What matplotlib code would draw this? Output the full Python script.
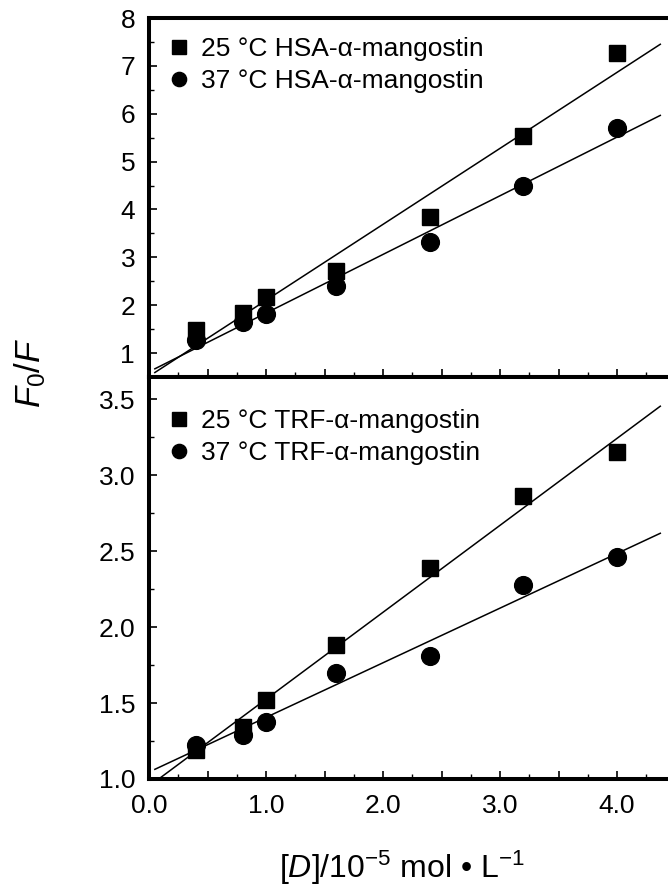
"""
Stern-Volmer plots for HSA / TRF quenching by alpha-mangostin at two temperatures.
"""
import matplotlib.pyplot as plt
import matplotlib.ticker as mticker
import numpy as np

plt.rcParams['font.family'] = ['Liberation Sans', 'DejaVu Sans']
plt.rcParams['mathtext.fontset'] = 'custom'
plt.rcParams['mathtext.rm'] = 'Liberation Sans'
plt.rcParams['mathtext.it'] = 'Liberation Sans:italic'

# [D] / 10^-5 mol L^-1
conc = [0.4, 0.8, 1.0, 1.6, 2.4, 3.2, 4.0]

# F0/F, HSA
hsa_25 = [1.49, 1.83, 2.18, 2.72, 3.85, 5.53, 7.27]
hsa_37 = [1.28, 1.65, 1.81, 2.41, 3.33, 4.50, 5.71]

# F0/F, TRF
trf_25 = [1.19, 1.345, 1.52, 1.88, 2.39, 2.86, 3.15]
trf_37 = [1.224, 1.29, 1.378, 1.70, 1.81, 2.275, 2.46]

fit_range = [0.05, 4.37]

BLACK = 'black'
SPINE_W = 2.9


def style_axis(ax, ylim, major, minor, fmt):
    ax.set_xlim(0, 4.5)
    ax.set_ylim(*ylim)
    ax.xaxis.set_major_locator(mticker.MultipleLocator(0.5))
    ax.xaxis.set_minor_locator(mticker.MultipleLocator(0.25))
    ax.xaxis.set_major_formatter(
        mticker.FuncFormatter(lambda v, p: f'{v:.1f}' if abs(v - round(v)) < 1e-6 else ''))
    ax.yaxis.set_major_locator(mticker.MultipleLocator(major))
    ax.yaxis.set_minor_locator(mticker.MultipleLocator(minor))
    ax.yaxis.set_major_formatter(mticker.FormatStrFormatter(fmt))
    ax.tick_params(which='major', direction='in', length=6, width=1.2,
                   labelsize=19, top=False, right=False)
    ax.tick_params(which='minor', direction='in', length=3.5, width=1.0,
                   top=False, right=False)
    ax.tick_params(axis='y', which='major', pad=10)
    ax.tick_params(axis='x', which='major', pad=11)
    for side in ['left', 'bottom', 'top', 'right']:
        ax.spines[side].set_linewidth(SPINE_W)


def draw_series(ax, x, y25, y37, labels, legend_y=1.0):
    ax.plot(x, y25, 's', color=BLACK, markersize=12.2, label=labels[0], zorder=3)
    ax.plot(x, y37, 'o', color=BLACK, markersize=12.8, label=labels[1], zorder=3)
    xs = np.array(fit_range)
    for y in (y25, y37):
        k, b = np.polyfit(x, y, 1)
        ax.plot(xs, k * xs + b, '-', color=BLACK, linewidth=1.1, zorder=2)
    ax.legend(loc='upper left', bbox_to_anchor=(0.0, legend_y), frameon=False,
              fontsize=19, handlelength=0.8, handletextpad=0.45,
              labelspacing=0.32, borderpad=0.42, borderaxespad=0.3,
              markerscale=0.8)


fig = plt.figure(figsize=(6.68, 8.9), dpi=100)
left = 149 / 668
width = 4.5 * 117 / 668
y_top = 1 - 18 / 890
y_mid = 1 - 377 / 890
y_bot = 1 - 779 / 890

ax_top = fig.add_axes([left, y_mid, width, y_top - y_mid])
ax_bot = fig.add_axes([left, y_bot, width, y_mid - y_bot])

draw_series(ax_top, conc, hsa_25, hsa_37,
            ['25 °C HSA-α-mangostin', '37 °C HSA-α-mangostin'])
draw_series(ax_bot, conc, trf_25, trf_37,
            ['25 °C TRF-α-mangostin', '37 °C TRF-α-mangostin'], legend_y=0.968)

style_axis(ax_top, (0.5, 8.0), 1, 0.5, '%d')
style_axis(ax_bot, (1.0, 3.645), 0.5, 0.25, '%.1f')
ax_top.tick_params(axis='x', labelbottom=False)

fig.text(30 / 668, 1 - 373 / 890, r'$F_{\mathrm{0}}/F$', rotation=90,
         ha='center', va='center', fontsize=25)
fig.text(402 / 668, 1 - 868 / 890, r'[$D$]/10$^{-5}$ mol • L$^{-1}$',
         ha='center', va='center', fontsize=23)

plt.savefig('out.png', dpi=100)
plt.close()
